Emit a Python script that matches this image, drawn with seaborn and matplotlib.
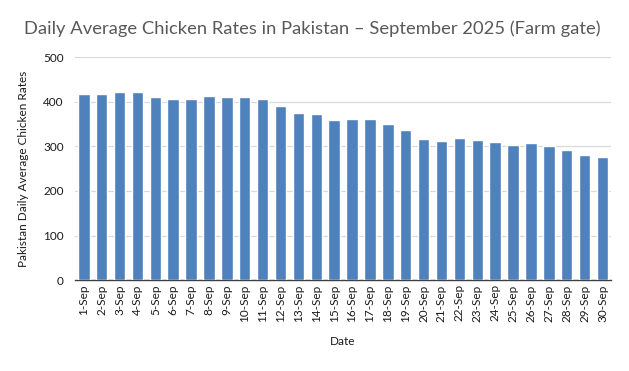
import pandas as pd
import matplotlib.pyplot as plt
import seaborn as sns

# Dados
dates = [f"{d}-Sep" for d in range(1, 31)]
rates = [418, 418, 421, 421, 410, 407, 407, 412, 410, 410,
         405, 390, 374, 372, 360, 362, 362, 349, 336, 317,
         313, 319, 315, 309, 302, 307, 300, 291, 280, 275]

df = pd.DataFrame({"Date": dates, "Rate": rates})

sns.set_theme(style="white")
plt.rcParams["font.family"] = ["Lato", "DejaVu Sans"]

fig = plt.figure(figsize=(6.29, 3.71), dpi=100)
ax = fig.add_axes([0.119, 0.245, 0.853, 0.601])

sns.barplot(data=df, x="Date", y="Rate", color="#4f81bd", saturation=1,
            width=0.64, ax=ax, zorder=3)

ax.set_ylim(0, 500)
ax.set_yticks(range(0, 501, 100))
ax.yaxis.grid(True, color="#d9d9d9", linewidth=0.9, zorder=0)
ax.set_axisbelow(True)
for s in ["top", "right", "left"]:
    ax.spines[s].set_visible(False)
ax.spines["bottom"].set_color("#404040")
ax.spines["bottom"].set_linewidth(1.0)
ax.tick_params(axis="both", length=0, labelsize=8.5, colors="#1a1a1a")
ax.tick_params(axis="x", rotation=90, pad=3)
ax.tick_params(axis="y", pad=8)

ax.set_xlabel("Date", fontsize=8.5, color="#1a1a1a", labelpad=10)
ax.set_ylabel("Pakistan Daily Average Chicken Rates", fontsize=8.5, color="#1a1a1a", labelpad=10)
fig.suptitle("Daily Average Chicken Rates in Pakistan \u2013 September 2025 (Farm gate)",
             x=0.497, y=0.945, fontsize=13.2, color="#595959")

fig.savefig("out.png", dpi=100)
